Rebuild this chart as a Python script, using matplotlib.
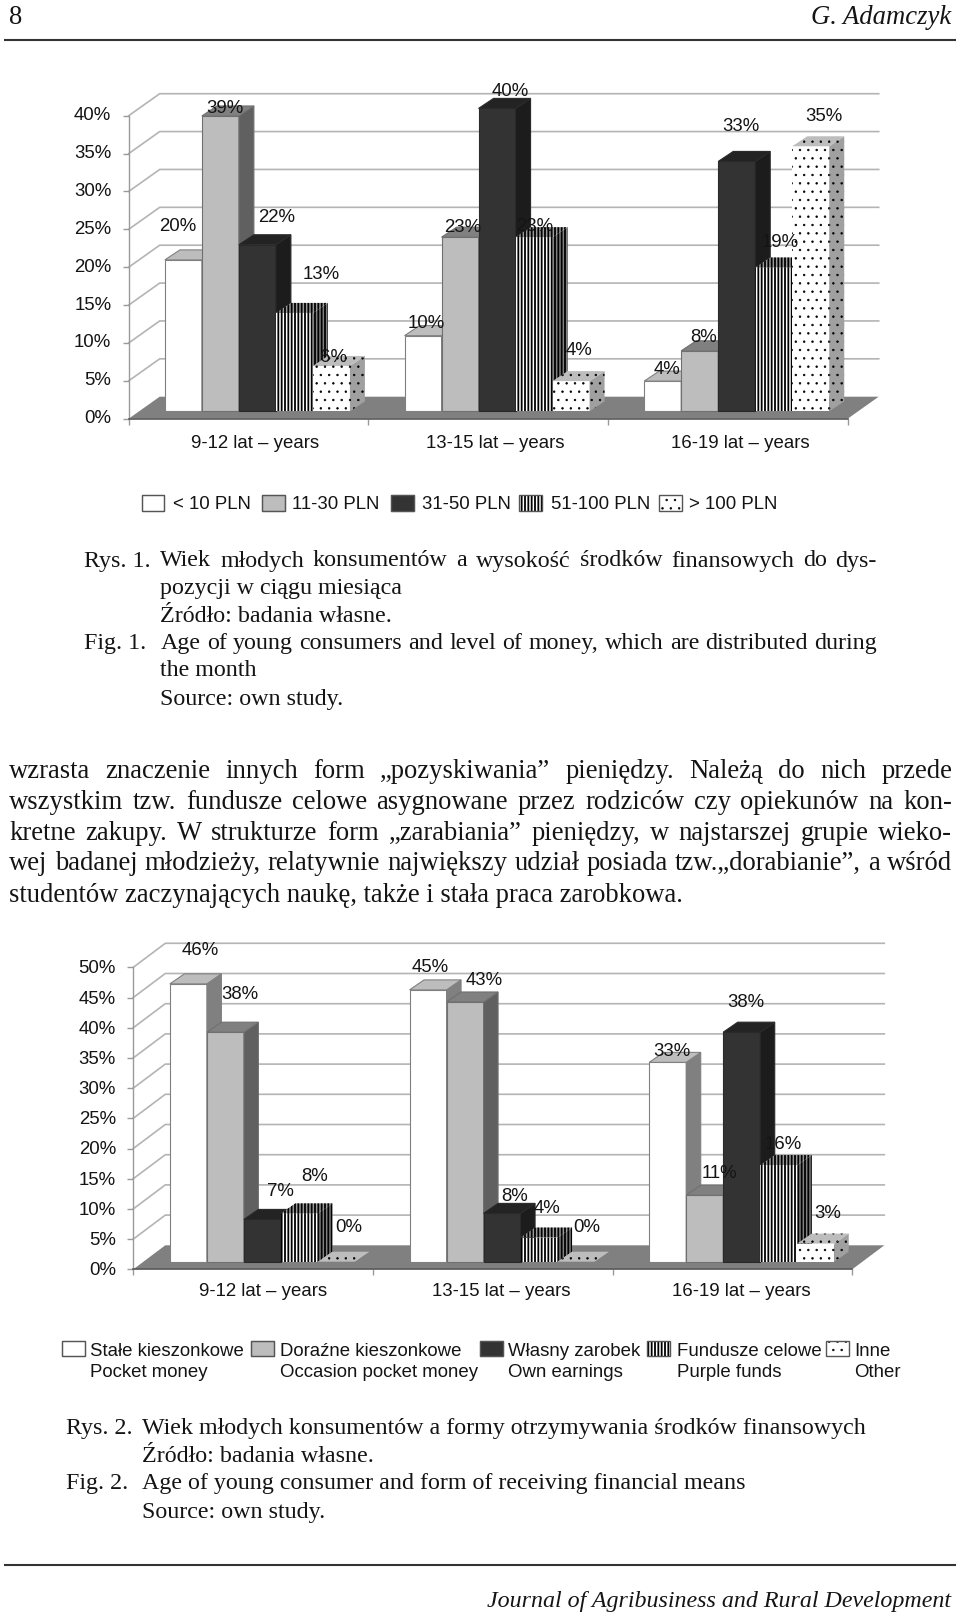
import matplotlib
matplotlib.use("Agg")
import matplotlib.pyplot as plt
from matplotlib.patches import Polygon, Rectangle
from matplotlib.lines import Line2D
from matplotlib.transforms import IdentityTransform, Affine2D

W, H = 960, 1614
DPI = 100
SERIF = 'Liberation Serif'
SANS = 'Liberation Sans'
INK = '#141414'

# ---------- data ----------
age_groups = ['9-12 lat – years', '13-15 lat – years', '16-19 lat – years']

money_levels = ['< 10 PLN', '11-30 PLN', '31-50 PLN', '51-100 PLN', '> 100 PLN']
money_under10 = [20, 10, 4]
money_11_30 = [39, 23, 8]
money_31_50 = [22, 40, 33]
money_51_100 = [13, 23, 19]
money_over100 = [6, 4, 35]

source_pl = ['Stałe kieszonkowe', 'Doraźne kieszonkowe', 'Własny zarobek', 'Fundusze celowe', 'Inne']
source_en = ['Pocket money', 'Occasion pocket money', 'Own earnings', 'Purple funds', 'Other']
source_fixed = [46, 45, 33]
source_occasional = [38, 43, 11]
source_earnings = [7, 8, 38]
source_purpose = [8, 4, 16]
source_other = [0, 0, 3]

# ---------- styles: front, top, side, hatch ----------
STYLES = [
    dict(front='#ffffff', top='#bdbdbd', side='#808080', hatch=None, edge='#808080'),
    dict(front='#bdbdbd', top='#808080', side='#606060', hatch=None, edge='#707070'),
    dict(front='#333333', top='#232323', side='#1c1c1c', hatch=None, edge='#2a2a2a'),
    dict(front='#ffffff', top='#9a9a9a', side='#808080', hatch='|||||', edge='#000000'),
    dict(front='#ffffff', top='#bdbdbd', side='#a0a0a0', hatch='..', edge='#000000'),
]
GRID = '#b4b4b4'
AXC = '#9a9a9a'
FONT = 13.4

fig = plt.figure(figsize=(W / DPI, H / DPI), dpi=DPI, facecolor='white')


def ftext(x, y, s, **kw):
    kw.setdefault('color', INK)
    return fig.text(x / W, 1 - y / H, s, **kw)


def poly(verts, face, hatch=None, edge='none', lw=0.8, z=3):
    hlw = 0.5 if hatch and '.' in hatch else 1.3
    with plt.rc_context({'hatch.linewidth': hlw}):
        fig.add_artist(Polygon(verts, closed=True, facecolor=face, edgecolor=edge if hatch else 'none',
                               hatch=hatch, lw=0, transform=IdentityTransform(), zorder=z))
    if not hatch and edge != 'none':
        fig.add_artist(Polygon(verts, closed=True, facecolor='none', edgecolor=edge, lw=lw,
                               transform=IdentityTransform(), zorder=z))


def chart(box, ymax, series, label_off, cat_off, floor_depth, bar_inset, bar_depth, tick_dy):
    x0, x1, ytop, y0 = box
    ax = fig.add_axes([x0 / W, 1 - y0 / H, (x1 - x0) / W, (y0 - ytop) / H])
    ax.patch.set_alpha(0)
    ax.set_xlim(0, len(age_groups))
    ax.set_ylim(0, ymax)
    for s in ['top', 'right', 'bottom']:
        ax.spines[s].set_visible(False)
    ax.spines['left'].set_color(AXC)
    ax.spines['left'].set_linewidth(1)
    yt = list(range(0, ymax + 1, 5))
    ax.set_yticks(yt, [f'{v}%' for v in yt])
    ax.set_xticks(range(len(age_groups) + 1), [''] * (len(age_groups) + 1))
    ax.tick_params(axis='both', length=4, width=1, color=AXC, labelsize=FONT, labelcolor=INK, pad=8.5)
    for t in ax.get_yticklabels():
        t.set_fontfamily(SANS)
        t.set_transform(t.get_transform() + Affine2D().translate(0, tick_dy))
    ax.set_zorder(1)
    T = ax.transData.transform
    fdx, fdy = floor_depth
    # walls
    for v in yt[1:]:
        (a, b), (c, d) = T((0, v)), T((len(age_groups), v))
        fig.add_artist(Line2D([a, a + fdx, c + fdx], [b, b + fdy, d + fdy], color=GRID, lw=1.2,
                              transform=IdentityTransform(), zorder=1))
    # floor
    (a, b), (c, d) = T((0, 0)), T((len(age_groups), 0))
    poly([(a, b), (a + fdx, b + fdy), (c + fdx, d + fdy), (c, d)], '#808080', z=2)
    fig.add_artist(Line2D([a, c], [b, d], color='#5a5a5a', lw=1.2, transform=IdentityTransform(), zorder=2))
    # bars
    gap = 0.108
    width = 0.1544
    idx = 0
    ix, iy = bar_inset
    bx, by = bar_depth
    for g in range(len(age_groups)):
        for i, vals in enumerate(series):
            st = STYLES[i]
            v = vals[g]
            xa, xb = g + gap + i * width, g + gap + (i + 1) * width
            (l, b0), (r, t0) = T((xa, 0)), T((xb, v))
            l, r, b0, t0 = l + ix, r + ix, b0 + iy, t0 + iy
            if v > 0:
                poly([(l, b0), (r, b0), (r, t0), (l, t0)], st['front'], st['hatch'], st['edge'])
                poly([(r, b0), (r + bx, b0 + by), (r + bx, t0 + by), (r, t0)], st['side'], st['hatch'], st['edge'])
            poly([(l, t0), (l + bx, t0 + by), (r + bx, t0 + by), (r, t0)], st['top'], st['hatch'], st['edge'])
            ox, oy = label_off[idx]
            cx, top = (l + r) / 2, t0
            ftext(cx + ox, H - top + oy + 1.8, f'{v}%', ha='center', va='center', fontfamily=SANS,
                  fontsize=FONT, zorder=10)
            idx += 1
        (cx, cy) = T((g + 0.5, 0))
        ftext(cx + cat_off[g][0], H - cy + cat_off[g][1], age_groups[g], ha='center', va='center',
              fontfamily=SANS, fontsize=FONT, zorder=10)
    return ax


def swatch(x, y, w, h, st):
    poly([(x, H - y), (x + w, H - y), (x + w, H - y - h), (x, H - y - h)], st['front'], st['hatch'], st['edge'], z=5)
    fig.add_artist(Rectangle((x, H - y - h), w, h, facecolor='none', edgecolor='#555555', lw=1,
                             transform=IdentityTransform(), zorder=6))


# ---------- chart 1 ----------
label_off_1 = [(-5.2, -34.8), (4.6, -9.2), (19.4, -29.3), (26.8, -40.5), (1.6, -9.9),
               (3.5, -13.8), (2.6, -11.4), (13, -18.3), (1.1, -12.1), (7.5, -32.7),
               (3.8, -13.3), (3.5, -15), (4, -37), (6.4, -26.7), (13.5, -31.9)]
chart((128.7, 847.7, 115.7, 418.7), 40,
      [money_under10, money_11_30, money_31_50, money_51_100, money_over100],
      label_off_1, [(6.5, 24.5), (7, 24.5), (12, 24.5)], (31, 22), (10.3, 7.3), (15, 10), 2)

sw1 = [141.7, 262.3, 391, 519.3, 659]
tx1 = [172.7, 291.7, 421.7, 550.7, 689.3]
for i, s in enumerate(money_levels):
    swatch(sw1[i], 495.3, 22.5, 15.4, STYLES[i])
    ftext(tx1[i], 504.3, s, va='center', fontfamily=SANS, fontsize=FONT)

# ---------- chart 2 ----------
label_off_2 = [(11.5, -35.6), (14.5, -39.9), (18.2, -30.1), (15.5, -38.4), (12.8, -35.7),
               (1.8, -24.2), (19.5, -23.7), (12.8, -19.1), (8.1, -30.8), (10.5, -35.7),
               (4.4, -13.1), (14.4, -23.3), (3.8, -31.5), (4.4, -22.3), (12.4, -31.9)]
chart((133.3, 852.3, 967.3, 1269.3), 50,
      [source_fixed, source_occasional, source_earnings, source_purpose, source_other],
      label_off_2, [(10, 22), (8, 22), (9, 22)], (32, 24), (10.7, 7.6), (14.5, 10), 0.5)

sw2 = [61.7, 250.7, 480, 647.3, 826]
tx2 = [90, 280, 508.3, 677.3, 854]
for i in range(5):
    swatch(sw2[i], 1340.7, 23, 15, STYLES[i])
    ftext(tx2[i], 1351.3, source_pl[i], va='center', fontfamily=SANS, fontsize=FONT)
    ftext(tx2[i], 1372.7, source_en[i], va='center', fontfamily=SANS, fontsize=FONT)

# ---------- page text ----------
renderer = fig.canvas.get_renderer()
BODY = 19.15
CAPTION = 17.3


def just(x0, x1, y, s, size):
    words = s.split(' ')
    arts = [ftext(0, y, w, fontfamily=SERIF, fontsize=size, va='baseline') for w in words]
    widths = [a.get_window_extent(renderer).width for a in arts]
    gap = (x1 - x0 - sum(widths)) / (len(words) - 1)
    x = x0
    for a, w in zip(arts, widths):
        a.set_x(x / W)
        x += w + gap


def line(x, y, s, size, **kw):
    ftext(x, y, s, fontfamily=SERIF, fontsize=size, va='baseline', **kw)


caption1 = ['Wiek młodych konsumentów a wysokość środków finansowych do dys-',
            'pozycji w ciągu miesiąca', 'Źródło: badania własne.',
            'Age of young consumers and level of money, which are distributed during',
            'the month', 'Source: own study.']
cap_y = [566.5, 594.2, 621.5, 649.5, 676.5, 704.5]
line(84, cap_y[0], 'Rys. 1.', CAPTION)
line(84, cap_y[3], 'Fig. 1.', CAPTION)
for i, s in enumerate(caption1):
    if i in (0, 3):
        just(160.4, 877, cap_y[i], s, CAPTION)
    else:
        line(160.4, cap_y[i], s, CAPTION)

para = ['wzrasta znaczenie innych form „pozyskiwania” pieniędzy. Należą do nich przede',
        'wszystkim tzw. fundusze celowe asygnowane przez rodziców czy opiekunów na kon-',
        'kretne zakupy. W strukturze form „zarabiania” pieniędzy, w najstarszej grupie wieko-',
        'wej badanej młodzieży, relatywnie największy udział posiada tzw.„dorabianie”, a wśród',
        'studentów zaczynających naukę, także i stała praca zarobkowa.']
para_y = [778.3, 809.3, 840, 870, 901.7]
for i, s in enumerate(para):
    if i < 4:
        just(9, 952, para_y[i], s, BODY)
    else:
        line(9, para_y[i], s, BODY)

cap2_y = [1434, 1462, 1489, 1517.7]
line(65.5, cap2_y[0], 'Rys. 2.', CAPTION)
line(65.5, cap2_y[2], 'Fig. 2.', CAPTION)
caption2 = ['Wiek młodych konsumentów a formy otrzymywania środków finansowych', 'Źródło: badania własne.',
            'Age of young consumer and form of receiving financial means', 'Source: own study.']
for y, s in zip(cap2_y, caption2):
    line(142, y, s, CAPTION)

line(9, 24, '8', BODY)
line(951, 24, 'G. Adamczyk', BODY, ha='right', style='italic')
line(951, 1606.7, 'Journal of Agribusiness and Rural Development', CAPTION, ha='right', style='italic')
for y in (40, 1565.3):
    fig.add_artist(Line2D([5 / W, 955 / W], [1 - y / H] * 2, color='#333333', lw=1.5, transform=fig.transFigure))

fig.savefig('out.png', dpi=DPI, facecolor='white')
